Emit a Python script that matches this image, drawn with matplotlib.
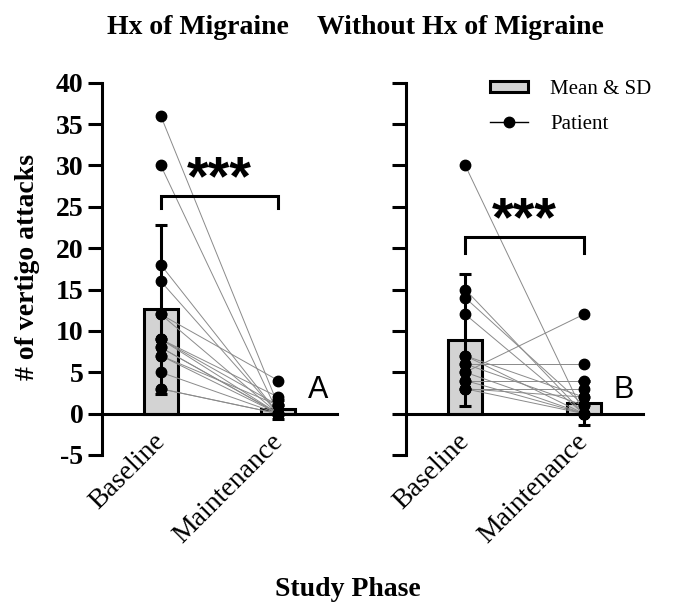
import matplotlib
matplotlib.use("Agg")
import matplotlib.pyplot as plt
from matplotlib.patches import Patch
from matplotlib.lines import Line2D
from matplotlib.transforms import ScaledTranslation

# --- data ---
phases = ["Baseline", "Maintenance"]
titles = ["Hx of Migraine", "Without Hx of Migraine"]
panel_tags = ["A", "B"]

# Hx of migraine, one entry per patient
mig_baseline = [36, 30, 18, 16, 12, 12, 9, 9, 9, 8, 8, 7, 7, 5, 3, 3]
mig_maint = [1, 0, 0, 0, 4, 0, 2, 0, 1, 0, 0, 0, 1, 0, 0, 0]
mig_mean = [12.6, 0.5]
mig_sd = [10.2, 1.2]

# without hx of migraine
nomig_baseline = [30, 15, 14, 12, 7, 7, 6, 6, 5, 5, 4, 4, 3, 3, 3]
nomig_maint = [0, 0, 1, 0, 2, 0, 6, 1, 12, 0, 4, 0, 3, 0, 2]
nomig_mean = [8.9, 1.3]
nomig_sd = [8.0, 2.7]

yticks = [-5, 0, 5, 10, 15, 20, 25, 30, 35, 40]

SERIF = "Liberation Serif"
SANS = "Liberation Sans"
LW = 2.2

W, H = 693, 606
fig = plt.figure(figsize=(W / 100, H / 100), dpi=100)
bottom = 1 - 455 / H
height = (455 - 82.7) / H
ax1 = fig.add_axes([102 / W, bottom, 235 / W, height])
ax2 = fig.add_axes([406 / W, bottom, 237 / W, height])

panels = [
    (ax1, mig_baseline, mig_maint, mig_mean, mig_sd, 26.3, 24.8),
    (ax2, nomig_baseline, nomig_maint, nomig_mean, nomig_sd, 21.4, 19.4),
]

for i, (ax, base, maint, mean, sd, br_top, br_foot) in enumerate(panels):
    # spine position first: moving it resets the tick label styling
    ax.spines["top"].set_visible(False)
    ax.spines["right"].set_visible(False)
    ax.spines["left"].set_linewidth(LW)
    ax.spines["bottom"].set_linewidth(LW)
    ax.spines["bottom"].set_position(("data", 0))
    ax.spines["bottom"].set_zorder(5)

    xs = [0, 1]
    ax.bar(xs, mean, width=0.29, color="#d3d3d3", edgecolor="black",
           linewidth=LW, zorder=1)
    for b, m in zip(base, maint):
        ax.plot(xs, [b, m], color="#8a8a8a", linewidth=0.7, zorder=2)
    ax.errorbar(xs, mean, yerr=sd, fmt="none", ecolor="black",
                elinewidth=LW, capsize=4.3, capthick=LW, zorder=3)
    ax.plot([0] * len(base), base, "o", color="black", markersize=7.5,
            zorder=4, clip_on=False)
    ax.plot([1] * len(maint), maint, "o", color="black", markersize=7.5,
            zorder=4, clip_on=False)

    # significance bracket
    ax.plot([0, 0, 1, 1], [br_foot, br_top, br_top, br_foot], color="black",
            linewidth=LW, solid_joinstyle="miter", zorder=3)
    ax.text(0.5, br_top + 0.2, "***", ha="center", va="baseline",
            fontsize=40, fontweight="bold", family=SANS)
    ax.text(1.25, 2.8, panel_tags[i], ha="left", va="center", fontsize=22,
            family=SANS)

    ax.set_xlim(-0.5, 1.5)
    ax.set_ylim(-5, 40)
    ax.set_yticks(yticks)
    ax.set_xticks(xs)
    ax.set_xticklabels(phases, rotation=45, ha="right",
                       rotation_mode="anchor", fontsize=20, family=SERIF)
    ax.tick_params(axis="x", length=0, pad=11)
    ax.tick_params(axis="y", length=10, width=LW, direction="out")
    shift = ScaledTranslation(-6 / 72, 0, fig.dpi_scale_trans)
    for lbl in ax.get_xticklabels():
        lbl.set_transform(lbl.get_transform() + shift)

ax1.set_yticklabels([str(t) for t in yticks], fontsize=20,
                    fontweight="bold", family=SERIF)
ax2.tick_params(axis="y", labelleft=False)

# titles and shared labels
fig.text(198 / W, 1 - 28 / H, titles[0], ha="center", va="center",
         fontsize=20, fontweight="bold", family=SERIF)
fig.text(460 / W, 1 - 28 / H, titles[1], ha="center", va="center",
         fontsize=20, fontweight="bold", family=SERIF)
fig.text(28 / W, 1 - 267 / H, "# of vertigo attacks", rotation=90,
         ha="center", va="center", fontsize=20, fontweight="bold",
         family=SERIF)
fig.text(348 / W, 1 - 590 / H, "Study Phase", ha="center", va="center",
         fontsize=20, fontweight="bold", family=SERIF)

handles = [
    Patch(facecolor="#d3d3d3", edgecolor="black", linewidth=LW),
    Line2D([], [], color="black", linewidth=1, marker="o", markersize=7.5),
]
fig.legend(handles, ["Mean & SD", "Patient"], loc="upper left",
           bbox_to_anchor=(490 / W, 1 - 80 / H), frameon=False,
           borderaxespad=0, borderpad=0, handlelength=1.8, handleheight=0.45,
           handletextpad=1.1, labelspacing=0.75,
           prop={"family": SERIF, "size": 15})

fig.savefig("out.png", dpi=100)
